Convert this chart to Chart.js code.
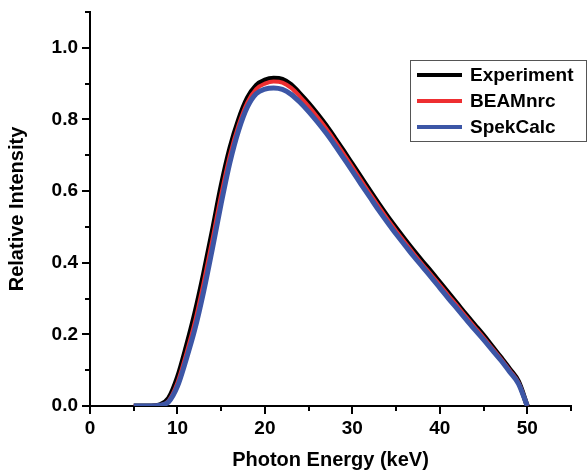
<!DOCTYPE html>
<html>
<head>
<meta charset="utf-8">
<script src="https://cdn.jsdelivr.net/npm/chart.js@4/dist/chart.umd.min.js"></script>
<style>
  html, body { margin: 0; padding: 0; background: #fff; }
  #wrap { width: 588px; height: 472px; }
</style>
</head>
<body>
<div id="wrap"><canvas id="grafico" width="588" height="472"></canvas></div>
<script>
// photon energies (keV)
const energias = [5, 6, 7, 8, 9, 10, 11, 12, 13, 14, 15, 16, 17, 18, 19, 20, 21, 22, 23, 24, 25, 26, 27,
    28, 29, 30, 31, 32, 33, 34, 35, 36, 37, 38, 39, 40, 41, 42, 43, 44, 45, 46, 47, 48, 49, 50];

const experiment = [0, 0, 0, 0.003, 0.022, 0.08, 0.165, 0.26, 0.37, 0.49, 0.615, 0.72, 0.80, 0.86, 0.895,
    0.91, 0.915, 0.912, 0.897, 0.872, 0.845, 0.815, 0.783, 0.748, 0.712, 0.675, 0.638, 0.601, 0.565, 0.53,
    0.497, 0.465, 0.434, 0.404, 0.375, 0.345, 0.315, 0.285, 0.255, 0.226, 0.197, 0.166, 0.135, 0.103, 0.068, 0];

const beamnrc = [0, 0, 0, 0.002, 0.015, 0.065, 0.145, 0.235, 0.345, 0.465, 0.59, 0.70, 0.785, 0.848, 0.885,
    0.90, 0.906, 0.903, 0.888, 0.864, 0.837, 0.807, 0.775, 0.740, 0.704, 0.667, 0.630, 0.593, 0.557, 0.522,
    0.489, 0.457, 0.426, 0.396, 0.367, 0.338, 0.308, 0.279, 0.249, 0.220, 0.191, 0.161, 0.131, 0.099, 0.065, 0];

const spekcalc = [0, 0, 0, 0.002, 0.012, 0.055, 0.13, 0.215, 0.32, 0.44, 0.565, 0.68, 0.77, 0.835, 0.872,
    0.885, 0.888, 0.884, 0.87, 0.848, 0.822, 0.793, 0.762, 0.728, 0.692, 0.656, 0.619, 0.583, 0.547, 0.513,
    0.480, 0.449, 0.418, 0.389, 0.360, 0.33, 0.30, 0.271, 0.242, 0.213, 0.185, 0.156, 0.127, 0.095, 0.062, 0];

const xTicks = [0, 10, 20, 30, 40, 50];
const xMinor = [5, 15, 25, 35, 45, 55];
const yTicks = [0, 0.2, 0.4, 0.6, 0.8, 1.0];
const yMinor = [0.1, 0.3, 0.5, 0.7, 0.9, 1.1];

const fonte = 'Liberation Sans, Arial, sans-serif';

function pontos(ys) {
    return energias.map((e, i) => ({ x: e, y: ys[i] }));
}

// tick marks (major + minor) pointing outwards
const marcas = {
    id: 'marcas',
    afterDraw(chart) {
        const ctx = chart.ctx;
        const xs = chart.scales.x, ys = chart.scales.y;
        const left = chart.chartArea.left, bottom = chart.chartArea.bottom;
        ctx.save();
        ctx.strokeStyle = '#000';
        ctx.lineWidth = 2;
        ctx.beginPath();
        xTicks.forEach(v => { const p = Math.round(xs.getPixelForValue(v)); ctx.moveTo(p, bottom); ctx.lineTo(p, bottom + 8); });
        xMinor.forEach(v => { const p = Math.round(xs.getPixelForValue(v)); ctx.moveTo(p, bottom); ctx.lineTo(p, bottom + 5); });
        yTicks.forEach(v => { const p = Math.round(ys.getPixelForValue(v)); ctx.moveTo(left, p); ctx.lineTo(left - 8, p); });
        yMinor.forEach(v => { const p = Math.round(ys.getPixelForValue(v)); ctx.moveTo(left, p); ctx.lineTo(left - 5, p); });
        ctx.stroke();
        ctx.restore();
    }
};

// boxed legend in the upper right corner
const legenda = {
    id: 'legenda',
    afterDraw(chart) {
        const ctx = chart.ctx;
        const bx = 410, by = 60, bw = 176, bh = 81;
        ctx.save();
        ctx.strokeStyle = '#555';
        ctx.lineWidth = 1;
        ctx.fillStyle = '#fff';
        ctx.fillRect(bx, by, bw, bh);
        ctx.strokeRect(bx + 0.5, by + 0.5, bw, bh);
        ctx.font = 'bold 19px ' + fonte;
        ctx.textBaseline = 'middle';
        chart.data.datasets.forEach((ds, i) => {
            const y = by + 15 + i * 26;
            ctx.strokeStyle = ds.borderColor;
            ctx.lineWidth = 4;
            ctx.beginPath();
            ctx.moveTo(417, y);
            ctx.lineTo(462, y);
            ctx.stroke();
            ctx.fillStyle = '#000';
            ctx.fillText(ds.label, 470, y + 1);
        });
        ctx.restore();
    }
};

document.addEventListener('DOMContentLoaded', () => {
    const ctx = document.getElementById('grafico').getContext('2d');
    new Chart(ctx, {
        type: 'line',
        data: {
            datasets: [
                { label: 'Experiment', data: pontos(experiment), borderColor: '#000000', borderWidth: 5, order: 3 },
                { label: 'BEAMnrc', data: pontos(beamnrc), borderColor: '#ee2e31', borderWidth: 4, order: 2 },
                { label: 'SpekCalc', data: pontos(spekcalc), borderColor: '#3c56a6', borderWidth: 5, order: 1 }
            ]
        },
        options: {
            responsive: false,
            animation: false,
            devicePixelRatio: 1,
            layout: { padding: { top: 12, right: 17, left: 0, bottom: 0 } },
            elements: {
                point: { radius: 0 },
                line: { cubicInterpolationMode: 'monotone', fill: false }
            },
            plugins: {
                legend: { display: false },
                tooltip: { enabled: false }
            },
            scales: {
                x: {
                    type: 'linear',
                    min: 0,
                    max: 55,
                    afterBuildTicks: s => { s.ticks = xTicks.map(v => ({ value: v })); },
                    afterFit: s => { s.height = 66; s.paddingRight = 0; },
                    grid: { display: true, drawOnChartArea: false, drawTicks: false },
                    border: { display: true, color: '#000', width: 2 },
                    ticks: { color: '#000', padding: 11, font: { family: fonte, size: 19, weight: 'bold' }, maxRotation: 0 },
                    title: { display: true, text: 'Photon Energy (keV)', color: '#000', padding: { top: 3, bottom: 0 },
                        font: { family: fonte, size: 20, weight: 'bold' } }
                },
                y: {
                    min: 0,
                    max: 1.1,
                    afterBuildTicks: s => { s.ticks = yTicks.map(v => ({ value: v })); },
                    afterFit: s => { s.width = 90; s.paddingTop = 0; s.paddingBottom = 0; },
                    grid: { display: true, drawOnChartArea: false, drawTicks: false },
                    border: { display: true, color: '#000', width: 2 },
                    ticks: { color: '#000', padding: 12, font: { family: fonte, size: 19, weight: 'bold' },
                        callback: v => v.toFixed(1) },
                    title: { display: true, text: 'Relative Intensity', color: '#000', padding: { top: 5, bottom: 0 },
                        font: { family: fonte, size: 20, weight: 'bold' } }
                }
            }
        },
        plugins: [marcas, legenda]
    });
});
</script>
</body>
</html>
